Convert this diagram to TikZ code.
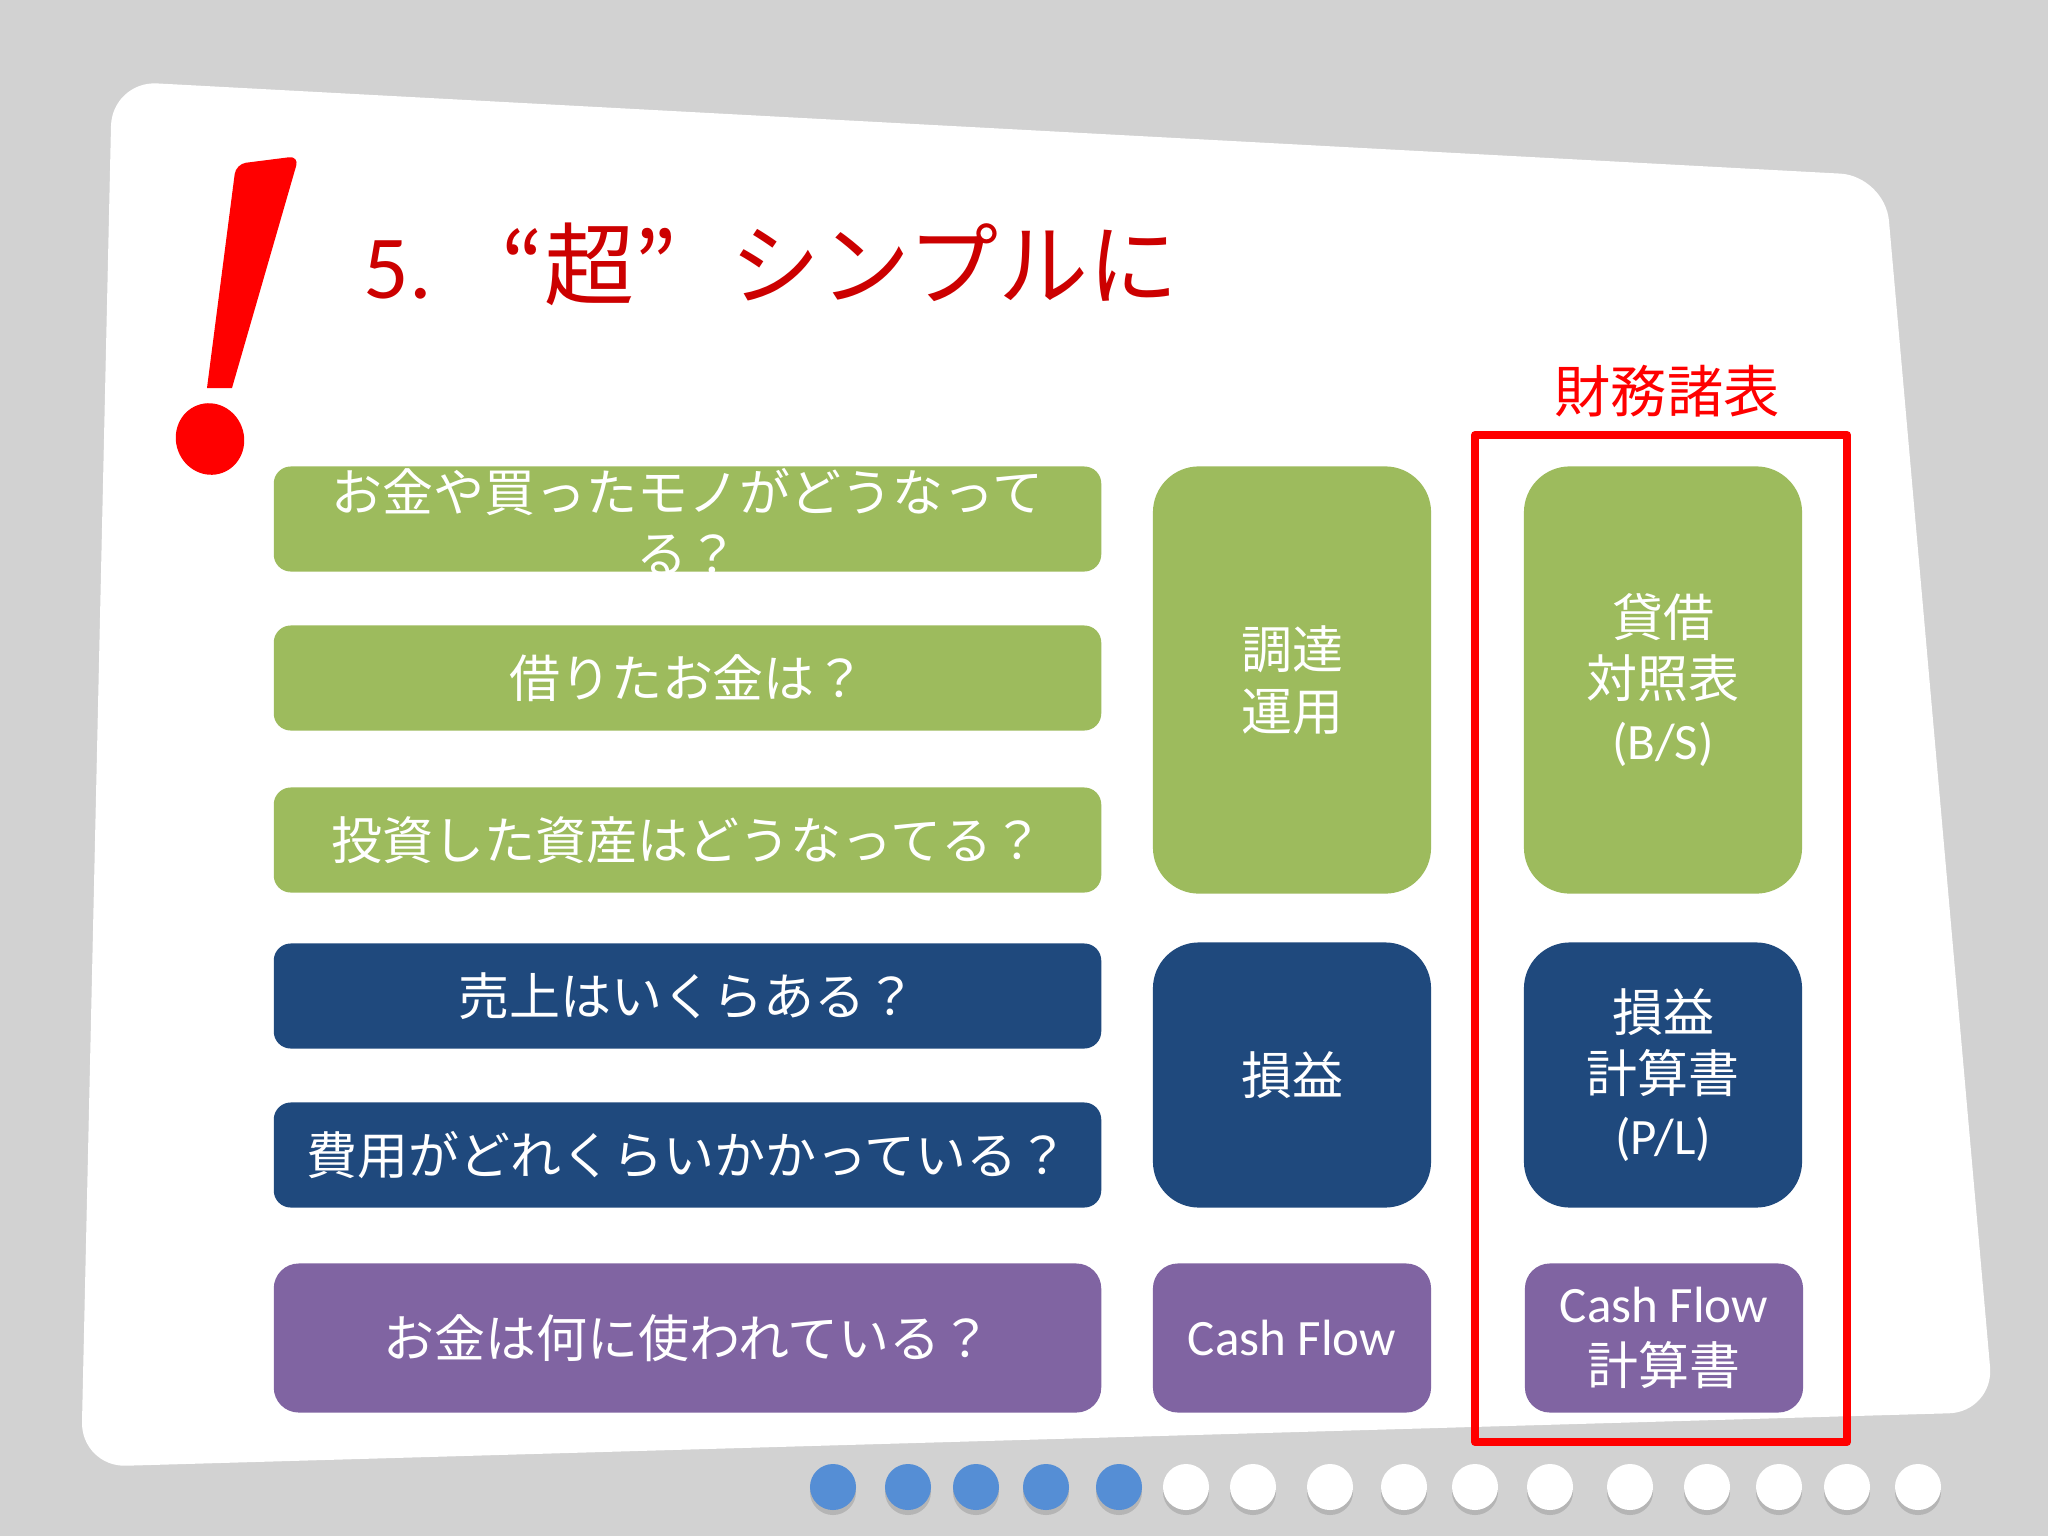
\documentclass[tikz,border=0pt]{standalone}
\usepackage{fontspec}
\setmainfont{Carlito}
\newfontfamily\cjk{Noto Sans CJK JP}
\usetikzlibrary{shadows}
\definecolor{pagegray}{HTML}{D2D2D2}
\definecolor{titlered}{HTML}{CC0000}
\definecolor{boxgreen}{HTML}{9DBB5D}
\definecolor{boxblue}{HTML}{1F497D}
\definecolor{boxpurple}{HTML}{8064A2}
\definecolor{dotblue}{HTML}{558ED5}
\tikzset{
  boxtext/.style={text=white,align=center,inner sep=0pt,font=\fontsize{14.5}{17.6}\selectfont\cjk},
  wide/.style={boxtext,fill=#1,minimum width=8.27cm,minimum height=1.05cm,rounded corners=0.17cm},
  tall/.style={boxtext,fill=#1,minimum width=2.78cm,rounded corners=0.46cm},
  pagedot/.style={circle,fill=#1,minimum size=0.46cm,inner sep=0pt,drop shadow={shadow xshift=0cm,shadow yshift=-0.05cm,opacity=0.35}}
}
\begin{document}
\begin{tikzpicture}[x=0.01cm,y=-0.01cm]
  \useasboundingbox (0,0) rectangle (2048,1536);
  \fill[pagegray] (0,0) rectangle (2048,1536);
  \fill[white,rounded corners=0.45cm] (112,81)--(1885,176)--(1994,1412)--(81,1467)--cycle;
  % exclamation mark
  \fill[red] (207,388)[rounded corners=0.1cm]--(236,164)--(299,156)[sharp corners]--(232,388)--cycle;
  \fill[red] (210,439)circle[x radius=34,y radius=36,rotate=20];
  % title
  \node[anchor=base west,inner sep=0pt,text=titlered,font=\fontsize{25.6}{30}\selectfont] (title) at (363,298)
    {5.\hspace{0.77em}{\cjk “超”\hspace{0.6em}シンプルに}};
  % left column
  \node[wide=boxgreen,label={[boxtext,yshift=-0.03cm]center:お金や買ったモノがどうなって\\る？}] (qfunds) at (687.5,519) {};
  \node[wide=boxgreen] (qdebt) at (687.5,678) {借りたお金は？};
  \node[wide=boxgreen] (qasset) at (687.5,840) {投資した資産はどうなってる？};
  \node[wide=boxblue] (qsales) at (687.5,996) {売上はいくらある？};
  \node[wide=boxblue] (qcost) at (687.5,1155) {費用がどれくらいかかっている？};
  \node[wide=boxpurple,minimum height=1.49cm,rounded corners=0.25cm] (quse) at (687.5,1338) {お金は何に使われている？};
  % middle column
  \node[tall=boxgreen,minimum height=4.27cm] (raise) at (1292,680) {調達\\運用};
  \node[tall=boxblue,minimum height=2.65cm] (profit) at (1292,1075) {損益};
  \node[tall=boxpurple,minimum height=1.49cm,rounded corners=0.25cm] (flow) at (1292,1338) {\normalfont Cash Flow};
  % right column
  \node[tall=boxgreen,minimum height=4.27cm] (bs) at (1663,680) {貸借\\対照表\\\normalfont (B/S)};
  \node[tall=boxblue,minimum height=2.65cm] (pl) at (1663,1075) {損益\\計算書\\\normalfont (P/L)};
  \node[tall=boxpurple,minimum height=1.49cm,rounded corners=0.25cm] (cf) at (1664,1338) {\normalfont Cash Flow\\計算書};
  \draw[red,line width=0.08cm,line join=round] (1475,435) rectangle (1847,1442);
  \node[text=red,inner sep=0pt,font=\fontsize{16}{20}\selectfont\cjk] (fs) at (1667,391) {財務諸表};
  % page dots
  \foreach \dotx in {833,908,976,1046,1119}
    \node[pagedot=dotblue] at (\dotx,1487) {};
  \foreach \dotx in {1186,1253,1330,1404,1475,1550,1630,1707,1779,1847,1918}
    \node[pagedot=white] at (\dotx,1487) {};
\end{tikzpicture}
\end{document}
